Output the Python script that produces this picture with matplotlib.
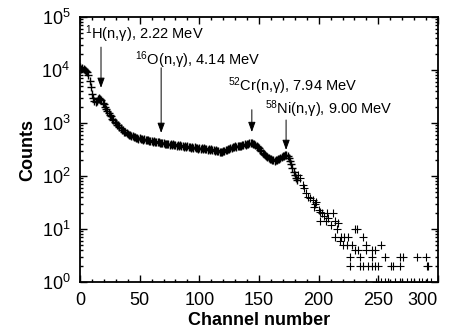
import numpy as np
import matplotlib
matplotlib.use("Agg")
import matplotlib.pyplot as plt
from matplotlib.ticker import LogLocator, MultipleLocator, NullFormatter

plt.rcParams["font.family"] = ["Liberation Sans", "DejaVu Sans"]
plt.rcParams["mathtext.fontset"] = "custom"
plt.rcParams["mathtext.rm"] = "Liberation Sans"
plt.rcParams["mathtext.it"] = "Liberation Sans:italic"
plt.rcParams["mathtext.bf"] = "Liberation Sans:bold"
plt.rcParams["mathtext.default"] = "regular"

# spectrum, channels 0..182 (one value per channel)
counts_main = [
    11200, 10600, 10900, 10300, 10100, 9700, 9000, 8100, 6300, 4700,
    3600, 2950, 2600, 2480, 2620, 2800, 2950, 2870, 2720, 2430,
    2250, 2030, 1870, 1690, 1560, 1420, 1340, 1210, 1140, 1040,
    990, 930, 905, 845, 810, 750, 730, 685, 665, 635,
    625, 595, 590, 565, 565, 545, 550, 530, 530, 510,
    515, 500, 500, 485, 495, 480, 470, 475, 460, 455,
    450, 445, 455, 435, 440, 430, 435, 420, 425, 415,
    420, 405, 410, 400, 405, 390, 400, 385, 395, 380,
    390, 375, 380, 370, 378, 362, 372, 358, 366, 355,
    362, 348, 356, 342, 352, 338, 348, 334, 345, 330,
    342, 326, 338, 322, 334, 318, 330, 314, 326, 310,
    320, 306, 314, 298, 306, 292, 300, 284, 290, 288,
    300, 296, 315, 312, 330, 325, 345, 340, 352, 348,
    362, 355, 368, 362, 376, 368, 385, 378, 395, 392,
    405, 400, 418, 412, 422, 410, 400, 385, 370, 350,
    335, 315, 295, 275, 258, 245, 235, 225, 215, 208,
    205, 198, 200, 196, 204, 200, 210, 208, 218, 225,
    235, 242, 250, 248, 238, 215, 190, 168, 142, 120,
    105, 92, 84,
]
channels_main = np.arange(len(counts_main))

# sparse high-channel tail
tail_ch = [183, 184, 187, 188, 189.5, 191, 193, 195, 197, 198, 196, 200, 201, 203,
           204.5, 207, 212, 201, 208, 206, 210, 214, 215, 216.5, 214, 219, 221, 225,
           218, 220, 223.5, 228, 230.5, 232, 230.5, 233, 237.5, 240, 240, 244.5, 247,
           252, 226, 235, 244.5, 256, 268, 270.5, 282, 290, 226, 235, 237.5, 241.5,
           244.5, 247, 250, 260.5, 262, 268, 290.5, 292,
           248, 252, 256, 258, 264, 268, 270, 274, 277, 280, 284, 287, 291, 294]
tail_counts = [105, 91, 68, 59, 47, 41, 38, 35, 30, 33, 26, 23, 21, 20,
               18, 20, 20, 14, 16, 14, 12, 14, 10, 13, 7, 7, 7, 7,
               6, 5, 5, 5, 10, 10, 4, 4, 7, 5, 4, 4, 4,
               5, 3, 3, 3, 3, 3, 3, 3, 3, 2, 2, 2, 2,
               2, 2, 2, 2, 2, 2, 2, 2,
               1, 1, 1, 1, 1, 1, 1, 1, 1, 1, 1, 1, 1, 1]

# line annotations
labels = [r"$^{1}$H(n,γ), 2.22 MeV", r"$^{16}$O(n,γ), 4.14 MeV",
          r"$^{52}$Cr(n,γ), 7.94 MeV", r"$^{58}$Ni(n,γ), 9.00 MeV"]
label_x = [4.2, 46, 124, 155]
label_y = [48000, 15000, 5000, 1850]
arrow_ch = [17.6, 68, 144, 172.7]
arrow_top = [27000, 11000, 1780, 1140]
arrow_head = [4600, 650, 675, 310]

x_ticks = [0, 50, 100, 150, 200, 250, 300]

fig = plt.figure(figsize=(4.52, 3.33), dpi=100)
ax = fig.add_axes([0.177, 0.153, 0.792, 0.796])

ax.plot(channels_main, counts_main, "+", color="black", ms=5.5, mew=1.0)
ax.plot(tail_ch, tail_counts, "+", color="black", ms=5.5, mew=0.8)

for t, tx, ty in zip(labels, label_x, label_y):
    ax.text(tx, ty, t, fontsize=10.5, ha="left", va="center")
for c, y0, y1 in zip(arrow_ch, arrow_top, arrow_head):
    ax.annotate("", xy=(c, y1), xytext=(c, y0),
                arrowprops=dict(arrowstyle="-|>,head_length=0.6,head_width=0.22",
                                color="black", lw=0.7, shrinkA=0, shrinkB=0))

ax.set_yscale("log")
ax.set_xlim(0, 300)
ax.set_ylim(1, 1e5)
ax.set_xticks(x_ticks)
ax.set_xticklabels([str(v) for v in x_ticks])
ax.get_xticklabels()[-1].set_horizontalalignment("right")
ax.xaxis.set_minor_locator(MultipleLocator(10))
ax.yaxis.set_major_locator(LogLocator(base=10, numticks=10))
ax.yaxis.set_minor_locator(LogLocator(base=10, subs=np.arange(2, 10), numticks=20))
ax.yaxis.set_minor_formatter(NullFormatter())
ax.tick_params(which="both", direction="in", top=True, right=True, width=1.0)
ax.tick_params(which="major", length=5, labelsize=13, pad=7)
ax.tick_params(which="minor", length=2.5)
for s in ax.spines.values():
    s.set_linewidth(1.3)

ax.set_xlabel("Channel number", fontsize=13, fontweight="bold", labelpad=2)
ax.set_ylabel("Counts", fontsize=13, fontweight="bold", labelpad=4)

fig.savefig("out.png", dpi=100)
